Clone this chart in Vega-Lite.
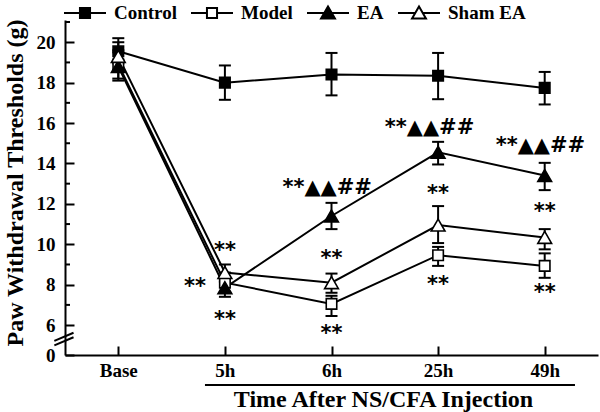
{
  "$schema": "https://vega.github.io/schema/vega-lite/v6.json",
  "width": 533,
  "height": 335,
  "autosize": {"type": "none"},
  "padding": {"left": 65, "top": 20, "right": 2, "bottom": 57},
  "background": "white",
  "config": {"view": {"stroke": null}, "font": "Liberation Serif"},
  "datasets": {
    "means": [
      {"group": "Control", "time": "Base", "t": 0, "mean": 19.55, "lo": 18.95, "hi": 20.2},
      {"group": "Control", "time": "5h", "t": 1, "mean": 18.0, "lo": 17.15, "hi": 18.85},
      {"group": "Control", "time": "6h", "t": 2, "mean": 18.4, "lo": 17.37, "hi": 19.47},
      {"group": "Control", "time": "25h", "t": 3, "mean": 18.34, "lo": 17.18, "hi": 19.47},
      {"group": "Control", "time": "49h", "t": 4, "mean": 17.74, "lo": 16.92, "hi": 18.53},
      {"group": "Model", "time": "Base", "t": 0, "mean": 18.9, "lo": 18.2, "hi": 19.6},
      {"group": "Model", "time": "5h", "t": 1, "mean": 8.1, "lo": 7.6, "hi": 8.6},
      {"group": "Model", "time": "6h", "t": 2, "mean": 7.05, "lo": 6.45, "hi": 7.45},
      {"group": "Model", "time": "25h", "t": 3, "mean": 9.46, "lo": 8.93, "hi": 9.87},
      {"group": "Model", "time": "49h", "t": 4, "mean": 8.93, "lo": 8.34, "hi": 9.55},
      {"group": "EA", "time": "Base", "t": 0, "mean": 18.8, "lo": 18.1, "hi": 19.5},
      {"group": "EA", "time": "5h", "t": 1, "mean": 7.85, "lo": 7.4, "hi": 8.3},
      {"group": "EA", "time": "6h", "t": 2, "mean": 11.4, "lo": 10.75, "hi": 12.05},
      {"group": "EA", "time": "25h", "t": 3, "mean": 14.55, "lo": 13.95, "hi": 15.07},
      {"group": "EA", "time": "49h", "t": 4, "mean": 13.4, "lo": 12.68, "hi": 14.03},
      {"group": "Sham EA", "time": "Base", "t": 0, "mean": 19.3, "lo": 18.6, "hi": 20.0},
      {"group": "Sham EA", "time": "5h", "t": 1, "mean": 8.6, "lo": 8.15, "hi": 9.0},
      {"group": "Sham EA", "time": "6h", "t": 2, "mean": 8.1, "lo": 7.6, "hi": 8.55},
      {"group": "Sham EA", "time": "25h", "t": 3, "mean": 10.95, "lo": 10.06, "hi": 11.89},
      {"group": "Sham EA", "time": "49h", "t": 4, "mean": 10.34, "lo": 9.75, "hi": 10.75}
    ],
    "notes": [
      {"t": 1.96, "y": 12.88, "label": "**▲▲##"},
      {"t": 2.92, "y": 15.85, "label": "**▲▲##"},
      {"t": 3.96, "y": 14.96, "label": "**▲▲##"},
      {"t": 1, "y": 9.75, "label": "**"},
      {"t": 0.72, "y": 7.98, "label": "**"},
      {"t": 1, "y": 6.33, "label": "**"},
      {"t": 2, "y": 9.35, "label": "**"},
      {"t": 2, "y": 5.67, "label": "**"},
      {"t": 3, "y": 12.6, "label": "**"},
      {"t": 3, "y": 8.06, "label": "**"},
      {"t": 4, "y": 11.69, "label": "**"},
      {"t": 4, "y": 7.7, "label": "**"}
    ],
    "deco": [
      {"x1": -0.6, "x2": -0.42, "y1": 5.0, "y2": 5.4},
      {"x1": -0.6, "x2": -0.42, "y1": 5.22, "y2": 5.62},
      {"x1": 0.813, "x2": 4.284, "y1": 3.03, "y2": 3.03},
      {"x1": -0.5, "x2": -0.453, "y1": 7, "y2": 7},
      {"x1": -0.5, "x2": -0.453, "y1": 9, "y2": 9},
      {"x1": -0.5, "x2": -0.453, "y1": 11, "y2": 11},
      {"x1": -0.5, "x2": -0.453, "y1": 13, "y2": 13},
      {"x1": -0.5, "x2": -0.453, "y1": 15, "y2": 15},
      {"x1": -0.5, "x2": -0.453, "y1": 17, "y2": 17},
      {"x1": -0.5, "x2": -0.453, "y1": 19, "y2": 19},
      {"x1": -0.5, "x2": -0.453, "y1": 21, "y2": 21}
    ]
  },
  "layer": [
    {
      "data": {"name": "means"},
      "mark": {"type": "line", "color": "black", "strokeWidth": 2},
      "encoding": {
        "x": {"field": "t", "type": "quantitative", "scale": {"domain": [-0.5, 4.5], "nice": false, "zero": false},
          "axis": {"values": [0, 1, 2, 3, 4], "labelExpr": "['Base','5h','6h','25h','49h'][datum.value]", "title": "Time After NS/CFA Injection",
            "grid": false, "tickSize": -9, "tickWidth": 2, "tickColor": "black", "domainColor": "black", "domainWidth": 2,
            "labelFont": "Liberation Serif", "labelFontWeight": "bold", "labelFontSize": 19, "labelColor": "black", "labelPadding": 15, "labelFlush": false, "labelOverlap": false,
            "titleFont": "Liberation Serif", "titleFontWeight": "bold", "titleFontSize": 24, "titleColor": "black", "titleX": 318, "titleY": 51, "titleBaseline": "alphabetic"}},
        "y": {"field": "mean", "type": "quantitative", "scale": {"domain": [4.52, 21.1], "nice": false, "zero": false},
          "axis": {"values": [4.52, 6, 8, 10, 12, 14, 16, 18, 20], "labelExpr": "datum.value < 5 ? '0' : datum.label", "title": "Paw Withdrawal Thresholds (g)",
            "grid": false, "tickSize": -9, "tickWidth": 2, "tickColor": "black", "domainColor": "black", "domainWidth": 2,
            "labelFont": "Liberation Serif", "labelFontWeight": "bold", "labelFontSize": 19, "labelColor": "black", "labelPadding": 19, "labelOverlap": false,
            "titleFont": "Liberation Serif", "titleFontWeight": "bold", "titleFontSize": 24, "titleColor": "black", "titleX": -43, "titleY": 162.5, "titleBaseline": "alphabetic"}},
        "detail": {"field": "group"},
        "order": {"field": "t"}
      }
    },
    {
      "data": {"name": "means"},
      "mark": {"type": "rule", "color": "black", "strokeWidth": 2},
      "encoding": {
        "x": {"field": "t", "type": "quantitative"},
        "y": {"field": "lo", "type": "quantitative"},
        "y2": {"field": "hi"}
      }
    },
    {
      "data": {"name": "means"},
      "mark": {"type": "point", "shape": "stroke", "size": 144, "color": "black", "strokeWidth": 2, "opacity": 1},
      "encoding": {
        "x": {"field": "t", "type": "quantitative"},
        "y": {"field": "lo", "type": "quantitative"}
      }
    },
    {
      "data": {"name": "means"},
      "mark": {"type": "point", "shape": "stroke", "size": 144, "color": "black", "strokeWidth": 2, "opacity": 1},
      "encoding": {
        "x": {"field": "t", "type": "quantitative"},
        "y": {"field": "hi", "type": "quantitative"}
      }
    },
    {
      "data": {"name": "means"},
      "mark": {"type": "point", "filled": true, "stroke": "black", "strokeWidth": 1.6, "opacity": 1},
      "encoding": {
        "x": {"field": "t", "type": "quantitative"},
        "y": {"field": "mean", "type": "quantitative"},
        "shape": {"condition": {"test": "datum.group === 'Control' || datum.group === 'Model'", "value": "square"}, "value": "triangle-up"},
        "size": {"condition": {"test": "datum.group === 'Control' || datum.group === 'Model'", "value": 110}, "value": 190},
        "fill": {"condition": {"test": "datum.group === 'Control' || datum.group === 'EA'", "value": "black"}, "value": "white"}
      }
    },
    {
      "data": {"name": "means"},
      "mark": {"type": "point", "filled": true, "opacity": 0},
      "encoding": {
        "x": {"field": "t", "type": "quantitative"},
        "y": {"field": "mean", "type": "quantitative"},
        "fill": {"field": "group", "type": "nominal",
          "scale": {"domain": ["Control", "Model", "EA", "Sham EA"], "range": ["black", "white", "black", "white"]},
          "legend": {"title": null, "orient": "none", "direction": "horizontal", "legendX": -2, "legendY": -29, "padding": 0,
            "symbolSize": 1764, "symbolStrokeWidth": 2, "symbolOpacity": 1,
            "labelFont": "Liberation Serif", "labelFontWeight": "bold", "labelFontSize": 19, "labelColor": "black", "labelOffset": 7, "columnPadding": 10}},
        "stroke": {"field": "group", "type": "nominal",
          "scale": {"domain": ["Control", "Model", "EA", "Sham EA"], "range": ["black", "black", "black", "black"]},
          "legend": {"title": null, "orient": "none", "direction": "horizontal", "legendX": -2, "legendY": -29, "padding": 0,
            "symbolSize": 1764, "symbolStrokeWidth": 2, "symbolOpacity": 1,
            "labelFont": "Liberation Serif", "labelFontWeight": "bold", "labelFontSize": 19, "labelColor": "black", "labelOffset": 7, "columnPadding": 10}},
        "shape": {"field": "group", "type": "nominal",
          "scale": {"domain": ["Control", "Model", "EA", "Sham EA"],
            "range": [
              "M-1,0L-0.24,0M0.24,0L1,0M-0.24,-0.24L0.24,-0.24L0.24,0.24L-0.24,0.24Z",
              "M-1,0L-0.24,0M0.24,0L1,0M-0.24,-0.24L0.24,-0.24L0.24,0.24L-0.24,0.24Z",
              "M-1,0L-0.18,0M0.18,0L1,0M0,-0.31L0.33,0.26L-0.33,0.26Z",
              "M-1,0L-0.18,0M0.18,0L1,0M0,-0.31L0.33,0.26L-0.33,0.26Z"
            ]},
          "legend": {"title": null, "orient": "none", "direction": "horizontal", "legendX": -2, "legendY": -29, "padding": 0,
            "symbolSize": 1764, "symbolStrokeWidth": 2, "symbolOpacity": 1,
            "labelFont": "Liberation Serif", "labelFontWeight": "bold", "labelFontSize": 19, "labelColor": "black", "labelOffset": 7, "columnPadding": 10}}
      }
    },
    {
      "data": {"name": "notes"},
      "mark": {"type": "text", "font": "DejaVu Sans", "fontWeight": "bold", "fontSize": 21, "baseline": "middle", "align": "center", "color": "black", "dy": 2},
      "encoding": {
        "x": {"field": "t", "type": "quantitative"},
        "y": {"field": "y", "type": "quantitative"},
        "text": {"field": "label"}
      }
    },
    {
      "data": {"name": "deco"},
      "mark": {"type": "rule", "color": "black", "strokeWidth": 2},
      "encoding": {
        "x": {"field": "x1", "type": "quantitative"},
        "x2": {"field": "x2"},
        "y": {"field": "y1", "type": "quantitative"},
        "y2": {"field": "y2"}
      }
    }
  ]
}
